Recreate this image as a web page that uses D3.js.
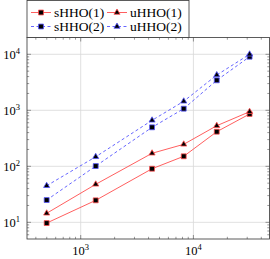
<!DOCTYPE html>
<html>
<head>
<meta charset="utf-8">
<script src="https://cdn.jsdelivr.net/npm/d3@7"></script>
<style>
  body { margin: 0; background: #fff; }
</style>
</head>
<body>
<div id="chart"></div>
<script>
const dofs = [499, 1359, 4296, 8203, 16106, 31500];
const sHHO1 = [9.7, 24.7, 90.6, 151, 415, 859];
const uHHO1 = [14.5, 47.7, 171, 247, 531, 944];
const sHHO2 = [25, 101, 497, 1069, 3434, 9057];
const uHHO2 = [45, 148, 663, 1448, 4266, 10000];
const xMajor = [1e3, 1e4];
const yMajor = [1e1, 1e2, 1e3, 1e4];

const series = [
  { name: 'sHHO(1)', values: sHHO1, color: '#ff4d4d', dash: null, mark: 'square' },
  { name: 'uHHO(1)', values: uHHO1, color: '#ff4d4d', dash: null, mark: 'triangle' },
  { name: 'sHHO(2)', values: sHHO2, color: '#5555ff', dash: '3,2.5', mark: 'square' },
  { name: 'uHHO(2)', values: uHHO2, color: '#5555ff', dash: '3,2.5', mark: 'triangle' }
];

const FONT = "'Liberation Serif', serif";
const W = 270, H = 259;
const margin = { top: 37.5, right: 0.5, bottom: 20, left: 27 },
      width = W - margin.left - margin.right,
      height = H - margin.top - margin.bottom;

const root = d3.select('#chart').append('svg')
  .attr('width', W).attr('height', H);
const svg = root.append('g')
  .attr('transform', 'translate(' + margin.left + ',' + margin.top + ')');

const x = d3.scaleLog().domain([334, 47300]).range([0, width]);
const y = d3.scaleLog().domain([5.04, 19950]).range([height, 0]);

// grid
svg.append('g').selectAll('line').data(xMajor).join('line')
  .attr('x1', d => x(d)).attr('x2', d => x(d))
  .attr('y1', 0).attr('y2', height)
  .attr('stroke', '#d8d8d8').attr('stroke-width', 0.8);
svg.append('g').selectAll('line').data(yMajor).join('line')
  .attr('y1', d => y(d)).attr('y2', d => y(d))
  .attr('x1', 0).attr('x2', width)
  .attr('stroke', '#d8d8d8').attr('stroke-width', 0.8);

// ticks (inside, on all four sides)
const xTicks = x.ticks();
const yTicks = y.ticks();
const isMajor = d => Math.abs(Math.log10(d) - Math.round(Math.log10(d))) < 1e-9;
const tk = svg.append('g').attr('stroke', '#555').attr('stroke-width', 0.6);
xTicks.forEach(d => {
  const len = isMajor(d) ? 4 : 2.2;
  tk.append('line').attr('x1', x(d)).attr('x2', x(d)).attr('y1', height).attr('y2', height - len);
  tk.append('line').attr('x1', x(d)).attr('x2', x(d)).attr('y1', 0).attr('y2', len);
});
yTicks.forEach(d => {
  const len = isMajor(d) ? 4 : 2.2;
  tk.append('line').attr('y1', y(d)).attr('y2', y(d)).attr('x1', 0).attr('x2', len);
  tk.append('line').attr('y1', y(d)).attr('y2', y(d)).attr('x1', width).attr('x2', width - len);
});

// tick labels
const xl = svg.append('g').selectAll('text').data(xMajor).join('text')
  .attr('x', d => x(d)).attr('y', height + 16)
  .attr('text-anchor', 'middle').style('font-family', FONT).style('font-size', '12.5px');
xl.append('tspan').text('10');
xl.append('tspan').attr('dy', -5).style('font-size', '8.5px').text(d => Math.round(Math.log10(d)));

const yl = svg.append('g').selectAll('text').data(yMajor).join('text')
  .attr('x', -7).attr('y', d => y(d) + 5)
  .attr('text-anchor', 'end').style('font-family', FONT).style('font-size', '12.5px');
yl.append('tspan').text('10');
yl.append('tspan').attr('dy', -5).style('font-size', '8.5px').text(d => Math.round(Math.log10(d)));

// series
const line = d3.line().x((d, i) => x(dofs[i])).y(d => y(d));
const sq = d3.symbol().type(d3.symbolSquare).size(24);
const tri = d3.symbol().type(d3.symbolTriangle).size(16);

series.forEach(s => {
  svg.append('path').datum(s.values)
    .attr('fill', 'none').attr('stroke', s.color).attr('stroke-width', 0.9)
    .attr('stroke-dasharray', s.dash)
    .attr('d', line);
  svg.append('g').selectAll('path').data(s.values).join('path')
    .attr('transform', (d, i) => 'translate(' + x(dofs[i]) + ',' + y(d) + ')')
    .attr('d', s.mark === 'square' ? sq : tri)
    .attr('fill', '#000').attr('stroke', s.color).attr('stroke-width', 0.8);
});

// frame
svg.append('rect').attr('width', width).attr('height', height)
  .attr('fill', 'none').attr('stroke', '#333').attr('stroke-width', 0.8);

// legend
const lg = root.append('g');
lg.append('rect').attr('x', 27).attr('y', 0.5).attr('width', 162).attr('height', 37)
  .attr('fill', '#fff').attr('stroke', '#333').attr('stroke-width', 0.8);
const cols = [31, 107];
series.forEach((s, k) => {
  const cx = cols[k % 2], cy = k < 2 ? 12.5 : 26.5;
  lg.append('line').attr('x1', cx).attr('x2', cx + 20).attr('y1', cy).attr('y2', cy)
    .attr('stroke', s.color).attr('stroke-width', 0.9).attr('stroke-dasharray', s.dash);
  lg.append('path').attr('transform', 'translate(' + (cx + 10) + ',' + cy + ')')
    .attr('d', s.mark === 'square' ? sq : tri)
    .attr('fill', '#000').attr('stroke', s.color).attr('stroke-width', 0.8);
  lg.append('text').attr('x', cx + 23).attr('y', cy + 4.5)
    .style('font-family', FONT).style('font-size', '13.5px').text(s.name);
});
</script>
</body>
</html>
